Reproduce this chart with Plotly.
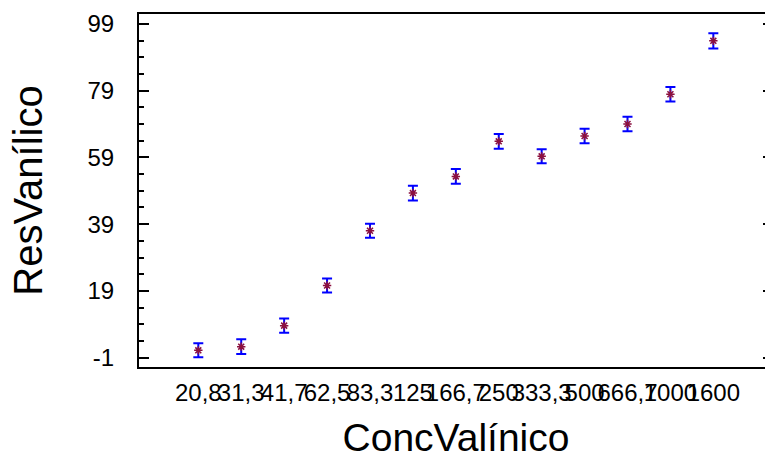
import plotly.graph_objects as go

categories = ["20,8", "31,3", "41,7", "62,5", "83,3", "125", "166,7", "250",
              "333,3", "500", "666,7", "1000", "1600"]
means = [1.2, 2.3, 8.6, 20.6, 37.0, 48.3, 53.3, 63.8, 59.3, 65.4, 69.0, 77.9, 93.9]
errors = [2.1, 2.2, 2.1, 2.1, 2.1, 2.2, 2.2, 2.2, 2.1, 2.2, 2.2, 2.2, 2.3]
y_ticks = [-1, 19, 39, 59, 79, 99]

font_family = "Liberation Sans, Arial, sans-serif"

fig = go.Figure()
fig.add_trace(go.Scatter(
    x=categories, y=means, mode="markers",
    marker=dict(symbol="asterisk-open", size=7, color="#8b1040",
                line=dict(color="#8b1040", width=1.5)),
    error_y=dict(type="data", array=errors, visible=True, color="#0000ff",
                 thickness=2, width=5),
    showlegend=False, hoverinfo="skip",
))

yrange = [-3.79, 101.94]
fig.update_layout(
    width=773, height=459,
    margin=dict(l=139, r=0, t=14, b=92, autoexpand=False),
    paper_bgcolor="white", plot_bgcolor="white",
    font=dict(family=font_family, color="black"),
    xaxis=dict(
        type="category", range=[-1.382, 13.39], automargin=False,
        showline=True, linecolor="black", linewidth=2, mirror=True,
        ticks="", showgrid=False, zeroline=False, tickangle=0,
        tickfont=dict(size=24), ticklabelstandoff=3,
        title=dict(text="ConcValínico", font=dict(size=39), standoff=19),
    ),
    yaxis=dict(
        range=yrange, tickvals=y_ticks, ticktext=[str(v) for v in y_ticks],
        automargin=False,
        showline=True, linecolor="black", linewidth=2, mirror="ticks",
        ticks="inside", ticklen=10, tickwidth=2, tickcolor="black",
        minor=dict(ticks="inside", ticklen=5, tickwidth=2, tickcolor="black", dtick=5, tick0=-1),
        showgrid=False, zeroline=False,
        tickfont=dict(size=24), ticklabelstandoff=18,
        title=dict(text="ResVanílico", font=dict(size=40), standoff=32),
    ),
)

fig.write_html(
    "out.html",
    config={"displayModeBar": False},
    post_script="document.body.style.margin='0';document.body.style.overflow='hidden';"
                "document.documentElement.style.overflow='hidden';",
)
